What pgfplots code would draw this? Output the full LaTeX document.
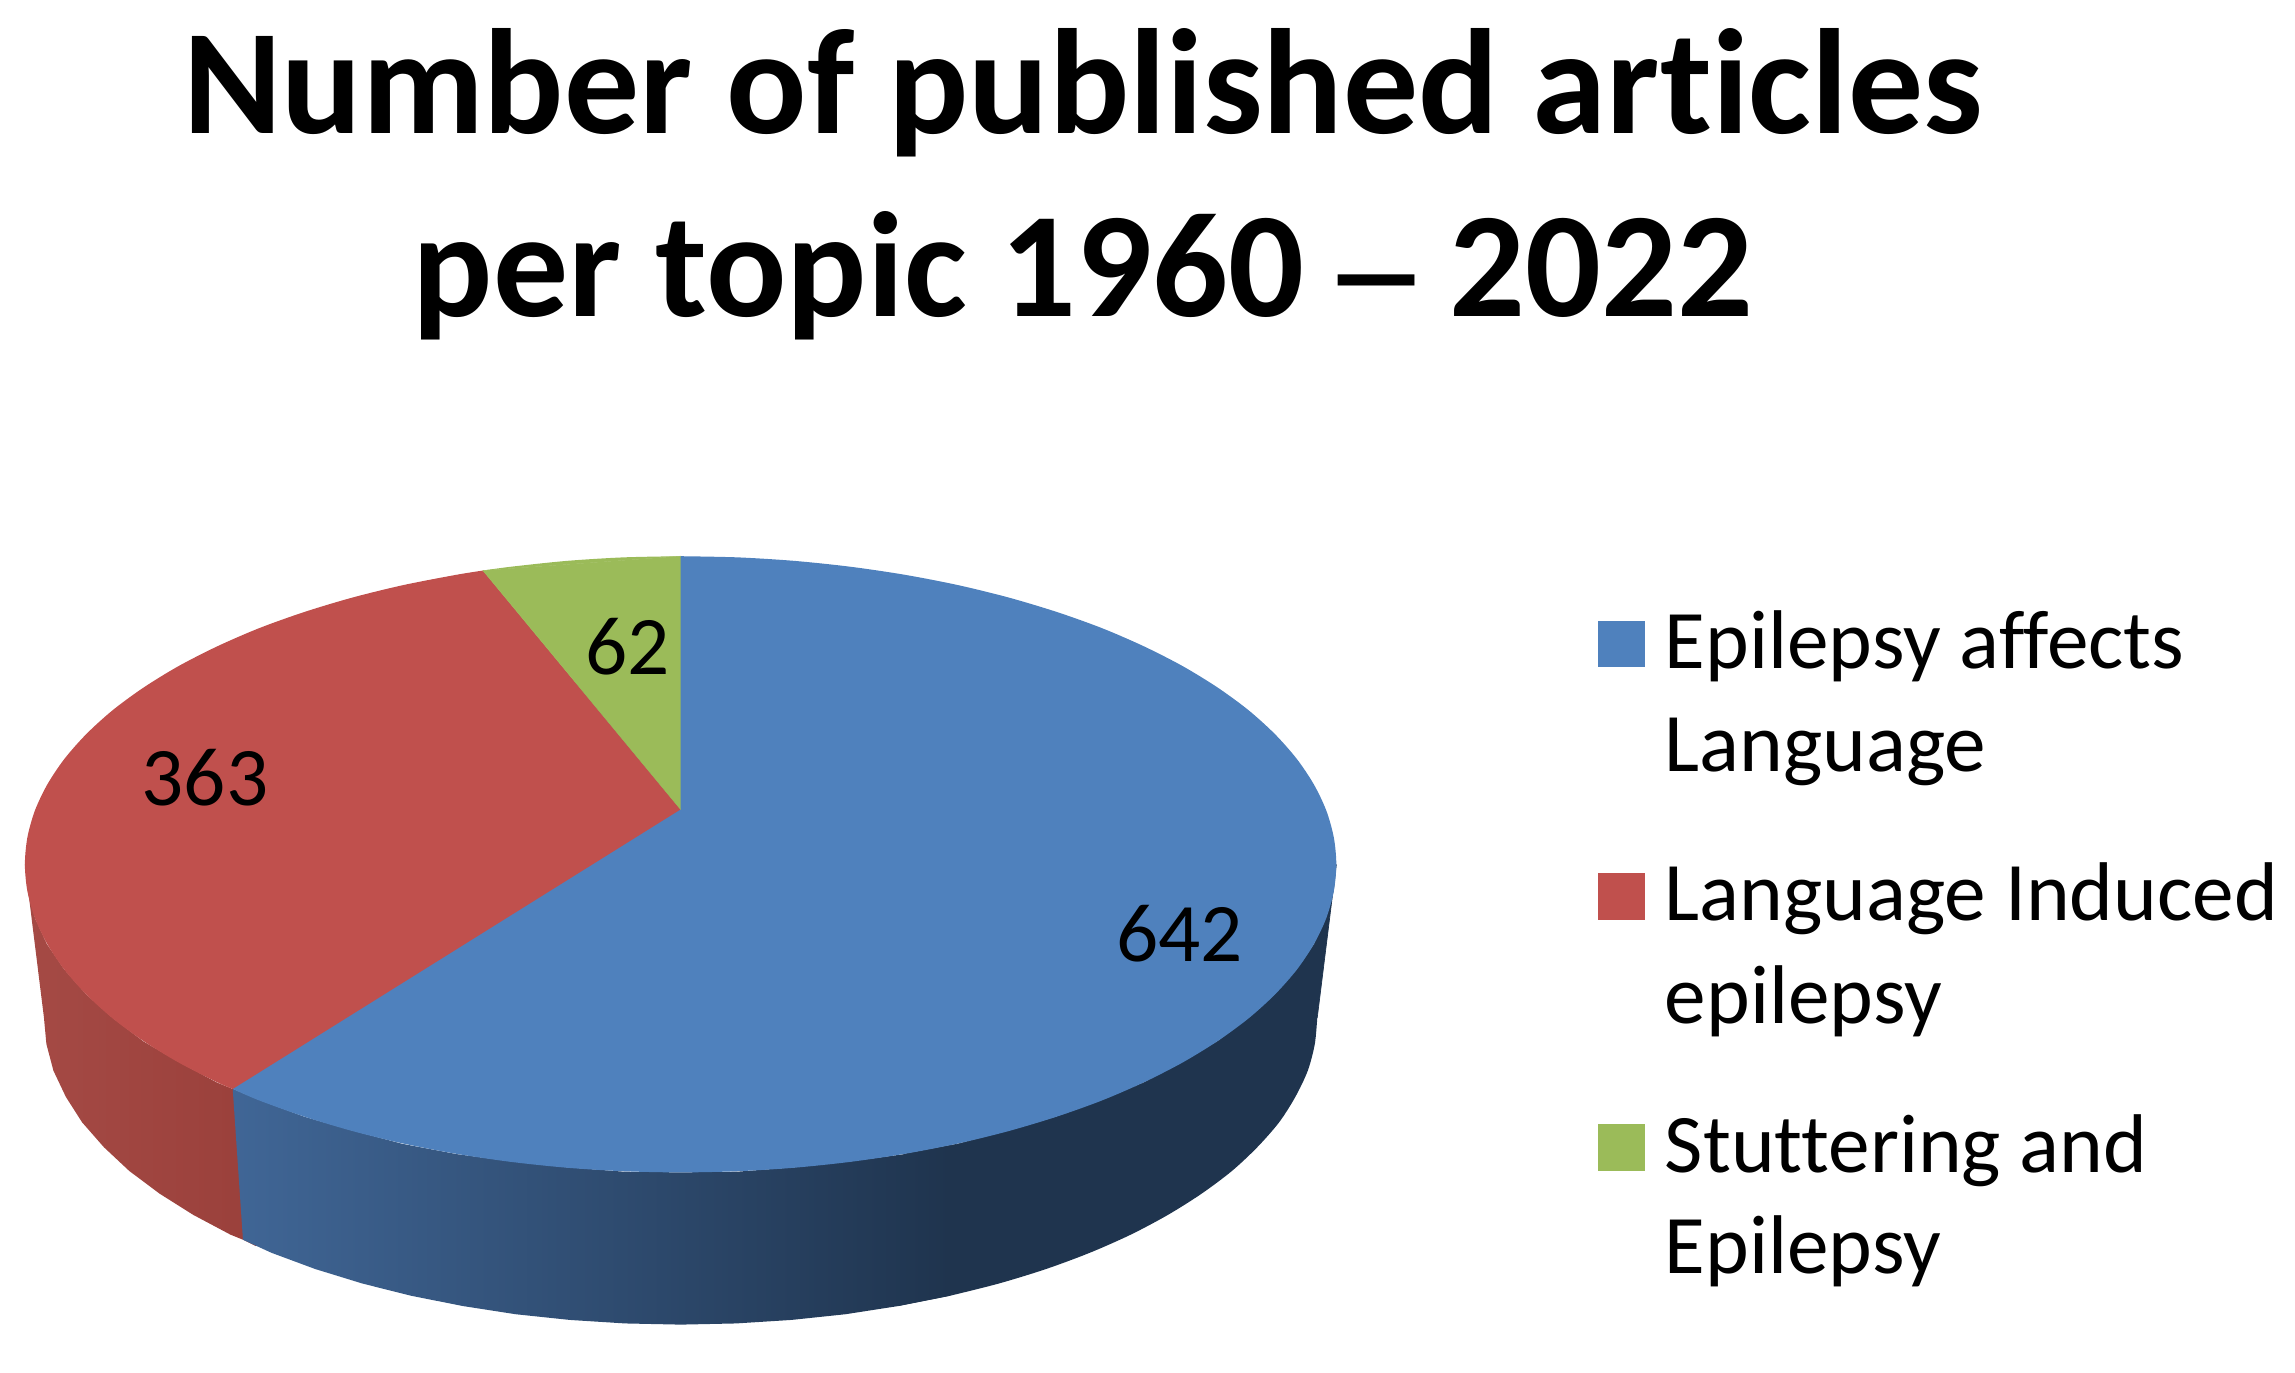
\documentclass[border=0pt]{standalone}
\usepackage{fontspec}
\setmainfont{Carlito}[Ligatures={TeX,NoCommon}]
\usepackage{pgfplots}
\pgfplotsset{compat=1.18}
\definecolor{cblue}{HTML}{4F81BD}
\definecolor{cred}{HTML}{C0504D}
\definecolor{cgreen}{HTML}{9BBB59}
\definecolor{sblueL}{HTML}{406696}
\definecolor{sblueD}{HTML}{1F344E}
\definecolor{sredL}{HTML}{A54A45}
\definecolor{sredR}{HTML}{9A403B}
\begin{document}
\begin{tikzpicture}
\begin{axis}[
  scale only axis, width=22.95cm, height=13.72cm,
  xmin=0, xmax=1568, ymin=0, ymax=937.4, y dir=reverse,
  hide axis, no markers, clip=false]
\path (axis cs:0,0) rectangle (axis cs:1568,937.4);
% side wall, red (363)
\addplot[draw=none, left color=sredL, right color=sredR] coordinates {
(175,751)(159,744)(148,739.5)(122,725.5)(98,711.5)(77,695.5)(59,679.5)(44,662.5)(32,645)(24,627.5)(19,608.5)(17,590.5)
(30,695)(31.7,713.3)(36.5,731.5)(45,749.4)(56.1,766.8)(71,783.8)(88.3,800)(109,815.5)(132,830)(157.4,843.5)(166,847)(175,851.5)};
% side wall, blue (642), dark part
\addplot[fill=sblueD, draw=sblueD, line width=0.2pt] coordinates {
(618,788.5)(655,781.5)(689,772.5)(722,763)(753,751.5)(782,739.5)(808,725.5)(832,711.5)(853,695.5)(871,679.5)(886,662.5)(898,645)(906,627.5)(911,608.5)(913,590.5)
(900,695)(860,760)(649,885)(613.8,892)};
\addplot[fill=sblueD, draw=none, smooth] coordinates {
(900,695)(898.3,713.3)(893.5,731.5)(885,749.4)(873.9,766.8)(859,783.8)(841.7,800)(821,815.5)(798,830)(772.6,843.5)(744.6,855.9)(714.7,867)(682.5,876.9)(649,885.3)};
% side wall, blue (642), graded part
\addplot[draw=none, left color=sblueL, right color=sblueD] coordinates {
(159,744)(177,751.5)(208,763)(241,772.5)(275,781.5)(312,788.5)(349,793.5)(387,797.5)(426,800.5)(465,801)(504,800.5)(543,797.5)(581,793.5)(618,788.5)(649,782.5)
(649,885.3)(613.8,892.3)(577.7,897.9)(540.7,901.8)(502.8,904.2)(465,905)(427.2,904.2)(389.3,901.8)(352.3,897.9)(316.2,892.3)(281,885.3)(247.5,876.9)(215.3,867)(185.4,855.9)(166,847)};
% top, blue (642): rim segment
\addplot[fill=cblue, draw=none, smooth] coordinates {
(465,380)(504,380.8)(542.8,383.2)(581,387.2)(618.2,392.7)(654.3,399.7)(689,408.2)(722,418.1)(753,429.2)(781.8,441.7)(808.2,455.2)(832,469.8)(853,485.2)(871,501.5)(886,518.5)(897.7,536)(906.2,553.9)(911.3,572.2)(913,590.5)
(911.3,608.8)(906.2,627.1)(897.7,645)(886,662.5)(871,679.5)(853,695.8)(832,711.2)(808.2,725.8)(781.8,739.3)(753,751.8)(722,762.9)(689,772.8)(654.3,781.3)(618.2,788.3)(581,793.8)(542.8,797.8)(504,800.2)(465,801)
(426,800.2)(387.2,797.8)(349,793.8)(311.8,788.3)(275.7,781.3)(241,772.8)(208,762.9)(177,751.8)(159,744)};
% top, red (363): rim segment and wedge
\addplot[fill=cred, draw=none, smooth] coordinates {
(159,744)(148.2,739.3)(121.8,725.8)(98,711.2)(77,695.8)(59,679.5)(44,662.5)(32.3,645)(23.8,627.1)(18.7,608.8)(17,590.5)(18.7,572.2)(23.8,553.9)(32.3,536)(44,518.5)(59,501.5)(77,485.2)(98,469.8)(121.8,455.2)(148.2,441.7)(177,429.2)(208,418.1)(241,408.2)(275.7,399.7)(311.8,392.7)(330,389.8)};
\addplot[fill=cred, draw=none] coordinates {(465,553)(159,744)(200,560)(330,389.8)};
% top, green (62): rim segment and wedge
\addplot[fill=cgreen, draw=none, smooth] coordinates {(330,389.8)(349,387.2)(387.2,383.2)(426,380.8)(465,380)};
\addplot[fill=cgreen, draw=cgreen, line width=0.15pt] coordinates {(465,553)(330,389.8)(465,380)};
% legend keys
\addplot[fill=cblue, draw=none] coordinates {(1092,424)(1124,424)(1124,456)(1092,456)};
\addplot[fill=cred, draw=none] coordinates {(1092,596.5)(1124,596.5)(1124,628.5)(1092,628.5)};
\addplot[fill=cgreen, draw=none] coordinates {(1092,768)(1124,768)(1124,800)(1092,800)};
% title
\node[anchor=base, inner sep=0pt, font=\fontsize{42.6}{51}\selectfont\bfseries] at (axis cs:740,91) {Number of published articles};
\node[anchor=base, inner sep=0pt, font=\fontsize{42.6}{51}\selectfont\bfseries] at (axis cs:740,216) {per topic 1960\hspace{-0.1em} \scalebox{1.45}[0.85]{–}\hspace{-0.1em} 2022};
% data labels
\node[anchor=base, inner sep=0pt, font=\fontsize{23.7}{28}\selectfont] at (axis cs:806,657) {642};
\node[anchor=base, inner sep=0pt, font=\fontsize{23.7}{28}\selectfont] at (axis cs:140,550) {363};
\node[anchor=base, inner sep=0pt, font=\fontsize{23.7}{28}\selectfont] at (axis cs:429,461) {62};
% legend text
\node[anchor=base west, inner sep=0pt, font=\fontsize{23.7}{28}\selectfont] at (axis cs:1137,457) {Epilepsy affects};
\node[anchor=base west, inner sep=0pt, font=\fontsize{23.7}{28}\selectfont] at (axis cs:1137,527) {Language};
\node[anchor=base west, inner sep=0pt, font=\fontsize{23.7}{28}\selectfont] at (axis cs:1137,629) {Language Induced};
\node[anchor=base west, inner sep=0pt, font=\fontsize{23.7}{28}\selectfont] at (axis cs:1137,699) {epilepsy};
\node[anchor=base west, inner sep=0pt, font=\fontsize{23.7}{28}\selectfont] at (axis cs:1137,801) {Stuttering and};
\node[anchor=base west, inner sep=0pt, font=\fontsize{23.7}{28}\selectfont] at (axis cs:1137,870) {Epilepsy};
\end{axis}
\end{tikzpicture}
\end{document}
